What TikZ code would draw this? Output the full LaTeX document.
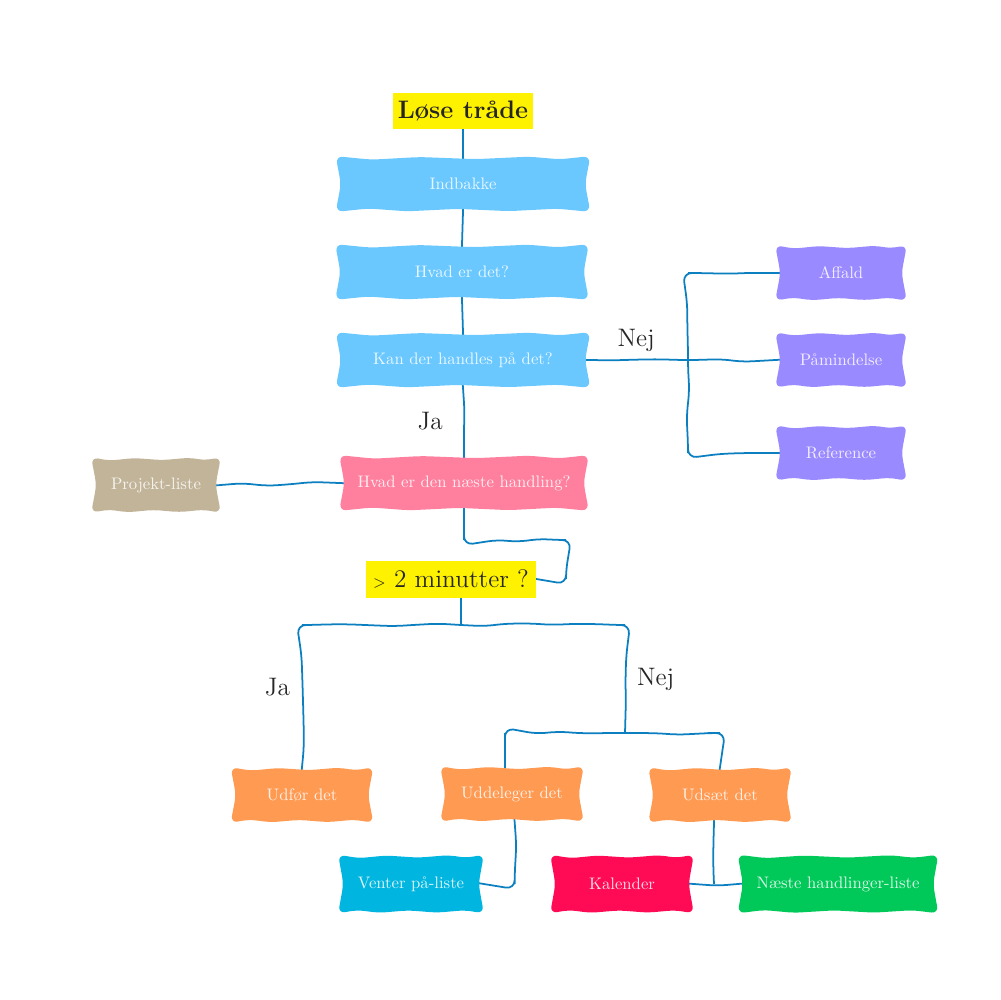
\documentclass[tikz,border=0pt]{standalone}
\usetikzlibrary{decorations.pathmorphing,calc}
\definecolor{cblue}{RGB}{106,200,255}
\definecolor{cpink}{RGB}{255,128,158}
\definecolor{ctan}{RGB}{194,180,153}
\definecolor{cpurple}{RGB}{154,138,255}
\definecolor{corange}{RGB}{255,154,82}
\definecolor{ccyan}{RGB}{0,182,224}
\definecolor{cred}{RGB}{255,10,84}
\definecolor{cgreen}{RGB}{0,201,90}
\definecolor{cyellow}{RGB}{255,242,0}
\definecolor{cline}{RGB}{11,127,192}
\pgfdeclarelayer{edges}
\pgfdeclarelayer{bg}
\pgfsetlayers{edges,bg,main}
\tikzset{
  box/.style={text=white, text opacity=0.85, font=\fontsize{9.5}{11}\selectfont, minimum height=1.1cm,
    align=center, inner sep=0pt},
  title/.style={fill=cyellow, text=black!85, font=\Large\bfseries, inner sep=2pt, minimum height=0.74cm},
  conn/.style={draw=cline, line width=1pt, decorate,
    decoration={random steps, segment length=13pt, amplitude=1.1pt}, rounded corners=5pt},
  sa/.style={shorten <=-3pt},
  sb/.style={shorten >=-3pt},
  lbl/.style={font=\Large, text=black!85},
}
\newcommand\mywbox[2]{%
 \fill[#2, rounded corners=4pt]
  (#1.north west)
  -- ($(#1.north west)!0.14!(#1.north east)+(0,-2pt)$)
  -- ($(#1.north west)!0.33!(#1.north east)+(0,-0.5pt)$)
  -- ($(#1.north west)!0.55!(#1.north east)+(0,-1.7pt)$)
  -- ($(#1.north west)!0.76!(#1.north east)+(0,-0.3pt)$)
  -- ($(#1.north west)!0.88!(#1.north east)+(0,-1.8pt)$)
  -- (#1.north east)
  -- ($(#1.north east)!0.5!(#1.south east)+(-3pt,0)$)
  -- (#1.south east)
  -- ($(#1.south east)!0.13!(#1.south west)+(0,1.8pt)$)
  -- ($(#1.south east)!0.32!(#1.south west)+(0,0.4pt)$)
  -- ($(#1.south east)!0.52!(#1.south west)+(0,1.7pt)$)
  -- ($(#1.south east)!0.72!(#1.south west)+(0,0.3pt)$)
  -- ($(#1.south east)!0.87!(#1.south west)+(0,1.9pt)$)
  -- (#1.south west)
  -- ($(#1.south west)!0.5!(#1.north west)+(3pt,0)$)
  -- cycle;}
\begin{document}
\begin{tikzpicture}[x=0.02cm,y=-0.02cm]
\pgfmathsetseed{4242}
\useasboundingbox (0,0) rectangle (1000,1000);
% nodes
\node[title, minimum width=2.8cm] (lose) at (463,111) {Løse tråde};
\node[box, minimum width=5.08cm] (indbakke) at (463,184) {Indbakke};
\node[box, minimum width=5.06cm] (hvad) at (462,272) {Hvad er det?};
\node[box, minimum width=5.08cm] (kan) at (463,360) {Kan der handles på det?};
\node[box, minimum width=4.98cm] (naeste) at (464,483) {Hvad er den næste handling?};
\node[box, minimum width=2.58cm] (projekt) at (156,485) {Projekt-liste};
\node[box, minimum width=2.62cm] (affald) at (841,273) {Affald};
\node[box, minimum width=2.62cm] (pamind) at (841,360) {Påmindelse};
\node[box, minimum width=2.62cm] (reference) at (841,453) {Reference};
\node[title, font=\Large, minimum width=3.4cm] (min) at (451,579) {{\small$>$} 2 minutter ?};
\node[box, minimum width=2.84cm] (udfor) at (302,795) {Udfør det};
\node[box, minimum width=2.86cm] (uddeleger) at (512,794) {Uddeleger det};
\node[box, minimum width=2.86cm] (udsaet) at (720,795) {Udsæt det};
\node[box, minimum width=2.9cm, minimum height=1.16cm] (venter) at (411,884) {Venter på-liste};
\node[box, minimum width=2.86cm, minimum height=1.16cm] (kalender) at (622,884) {Kalender};
\node[box, minimum width=4cm, minimum height=1.16cm] (naesteh) at (838,884) {Næste handlinger-liste};
% box backgrounds
\begin{pgfonlayer}{bg}
\mywbox{indbakke}{cblue}
\mywbox{hvad}{cblue}
\mywbox{kan}{cblue}
\mywbox{naeste}{cpink}
\mywbox{projekt}{ctan}
\mywbox{affald}{cpurple}
\mywbox{pamind}{cpurple}
\mywbox{reference}{cpurple}
\mywbox{udfor}{corange}
\mywbox{uddeleger}{corange}
\mywbox{udsaet}{corange}
\mywbox{venter}{ccyan}
\mywbox{kalender}{cred}
\mywbox{naesteh}{cgreen}
\end{pgfonlayer}
% coordinates
\coordinate (j1) at (688,360);
\coordinate (m1) at (566,540);
\coordinate (s1) at (461,625);
\coordinate (s2) at (625,733);
\coordinate (k1) at (714,884);
% connectors
\begin{pgfonlayer}{edges}
\draw[conn,sa,sb] (lose.south) -- (indbakke.north);
\draw[conn,sa,sb] (indbakke.south) -- (hvad.north);
\draw[conn,sa,sb] (hvad.south) -- (kan.north);
\draw[conn,sa,sb] (kan.south) -- node[lbl, left=8pt] {Ja} (naeste.north);
\draw[conn,sa,sb] (kan.east) -- node[lbl, above=1pt, pos=0.47] {Nej} (j1) -- (pamind.west);
\draw[conn,sa,sb] (affald.west) -| (j1) |- (reference.west);
\draw[conn,sa,sb] (projekt.east) -- (naeste.west);
\draw[conn,sa,sb] (naeste.south) |- (m1) |- (min.east);
\draw[conn,sa] (s1 |- min.south) -- (s1);
\draw[conn,sb] (s1) -| node[lbl, pos=0.72, left=3pt] {Ja} (udfor.north);
\draw[conn] (s1) -| node[lbl, pos=0.75, right=3pt] {Nej} (s2);
\draw[conn,sa,sb] ([xshift=-4pt]uddeleger.north) |- (s2) -| (udsaet.north);
\draw[conn,sa,sb] ([xshift=1.5pt]uddeleger.south) |- (venter.east);
\draw[conn,sa,sb] (kalender.east) -- (naesteh.west);
\draw[conn,sa] (k1 |- udsaet.south) -- (k1);
\end{pgfonlayer}
\end{tikzpicture}
\end{document}
